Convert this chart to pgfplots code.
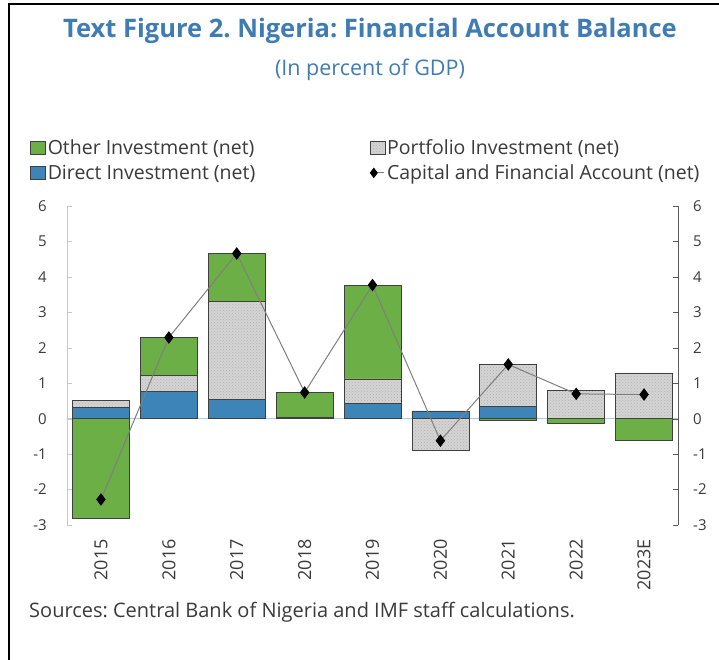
\documentclass[border=0pt]{standalone}
\usepackage{fontspec}
\setmainfont{Open Sans}
\usepackage{pgfplots}
\pgfplotsset{compat=1.18}
\usetikzlibrary{patterns}
\frenchspacing
\definecolor{oinv}{HTML}{6CAF46}
\definecolor{dinv}{HTML}{3D85B8}
\definecolor{pinv}{HTML}{D4D4D4}
\definecolor{ttl}{HTML}{3F7CB4}
\definecolor{txt}{HTML}{3A3A3A}
\definecolor{lgray}{HTML}{C8C8C8}
\definecolor{dgray}{HTML}{5A5A5A}
\definecolor{zline}{HTML}{A8CDEA}
\definecolor{lineg}{HTML}{7F7F7F}
\pgfplotsset{
  sqlegend/.style={legend image code/.code={\draw[##1] (0pt,-6.5pt) rectangle (15pt,6.5pt);}},
  dlegend/.style={legend image code/.code={\draw[##1,mark=none] (0pt,0pt)--(14pt,0pt); \draw[##1] plot coordinates {(4pt,0pt)};}},
  base/.style={scale only axis, width=611pt, height=319pt,
    xmin=-0.5, xmax=8.5, ymin=-3, ymax=6, ytick={-3,...,6},
    /pgf/number format/assume math mode=true,
    ticklabel style={font=\fontsize{15}{15}\selectfont, text=txt},
    major tick length=5pt},
  barstyle/.style={draw=black!75, line width=0.6pt},
}
\pgfplotstableread{
x d p o
0 0.32 0.19 0
1 0.76 0.46 1.07
2 0.54 2.76 1.36
3 0.03 0 0.72
4 0.44 0.68 2.65
5 0.22 0 0
6 0.34 1.19 0
7 0 0.79 0
8 0 1.29 0
}\postab
\pgfplotstableread{
x d p o
0 0 0 -2.80
5 0 -0.89 0
6 0 0 -0.05
7 0 0 -0.12
8 0 0 -0.61
}\negtab
\pgfplotstableread{
x t
0 -2.28
1 2.29
2 4.66
3 0.74
4 3.77
5 -0.62
6 1.53
7 0.70
8 0.68
}\tottab
\begin{document}
\begin{tikzpicture}
\path[use as bounding box] (0pt,0pt) rectangle (719pt,-660pt);
\draw[black, line width=2pt] (9pt,-660pt) -- (9pt,-4pt) -- (719pt,-4pt);
\node[text=ttl, font=\fontsize{25.5}{25.5}\selectfont\bfseries] at (370pt,-31pt) {Text Figure 2. Nigeria: Financial Account Balance};
\node[text=ttl, font=\fontsize{21.5}{21.5}\selectfont] at (370pt,-70pt) {(In percent of GDP)};
\node[text=txt, anchor=west, font=\fontsize{20}{20}\selectfont, inner sep=0pt] at (29pt,-612pt) {Sources: Central Bank of Nigeria and IMF staff calculations.};

\begin{axis}[base, ybar stacked, bar width=57pt, at={(67pt,-525pt)}, anchor=south west,
  axis y line*=left, axis x line*=bottom,
  x axis line style={draw=none,-}, y axis line style={draw=lgray,-},
  ytick style={draw=lgray}, xtick={0,...,8}, xtick style={draw=none},
  xticklabels={2015,2016,2017,2018,2019,2020,2021,2022,2023E},
  xticklabel style={rotate=90, anchor=east, font=\fontsize{18}{18}\selectfont, inner sep=0pt},
  xticklabel shift=14pt,
  yticklabel style={inner sep=0pt}, yticklabel shift=20pt,
  extra y ticks={0}, extra y tick labels={},
  extra y tick style={grid=major, major grid style={draw=zline, line width=1pt}, tick style={draw=none}},
]
\addplot[barstyle, fill=dinv] table[x=x, y=d] {\postab};
\addplot[barstyle, fill=pinv, postaction={pattern=crosshatch dots, pattern color=black!30}] table[x=x, y=p] {\postab};
\addplot[barstyle, fill=oinv] table[x=x, y=o] {\postab};
\end{axis}

\begin{axis}[base, ybar stacked, bar width=57pt, at={(67pt,-525pt)}, anchor=south west, hide axis]
\addplot[barstyle, fill=dinv] table[x=x, y=d] {\negtab};
\addplot[barstyle, fill=pinv, postaction={pattern=crosshatch dots, pattern color=black!30}] table[x=x, y=p] {\negtab};
\addplot[barstyle, fill=oinv] table[x=x, y=o] {\negtab};
\end{axis}

\begin{axis}[base, at={(67pt,-525pt)}, anchor=south west,
  axis y line*=right, axis x line=none,
  y axis line style={draw=dgray,-}, ytick style={draw=dgray},
  yticklabel style={inner sep=0pt}, yticklabel shift=15pt,
  legend columns=2,
  legend style={at={(-0.0606,1.216)}, anchor=north west, draw=none, fill=none,
    inner sep=0pt, font=\fontsize{19.5}{19.5}\selectfont, text=txt,
    row sep=5pt,
    /tikz/every even column/.append style={column sep=112pt}},
  legend cell align=left,
]
\addlegendimage{sqlegend, barstyle, fill=oinv}
\addlegendentry{Other Investment (net)}
\addlegendimage{sqlegend, barstyle, fill=pinv, postaction={pattern=crosshatch dots, pattern color=black!30}}
\addlegendentry{Portfolio Investment (net)}
\addlegendimage{sqlegend, barstyle, fill=dinv}
\addlegendentry{Direct Investment (net)}
\addlegendimage{dlegend, color=lineg, line width=1pt, mark=diamond*, mark size=4.5pt, mark options={fill=black, draw=black}}
\addlegendentry{Capital and Financial Account (net)}
\addplot[forget plot, color=lineg, line width=1pt, mark=diamond*, mark size=5.5pt, mark options={fill=black, draw=black}] table[x=x, y=t] {\tottab};
\end{axis}
\end{tikzpicture}
\end{document}
